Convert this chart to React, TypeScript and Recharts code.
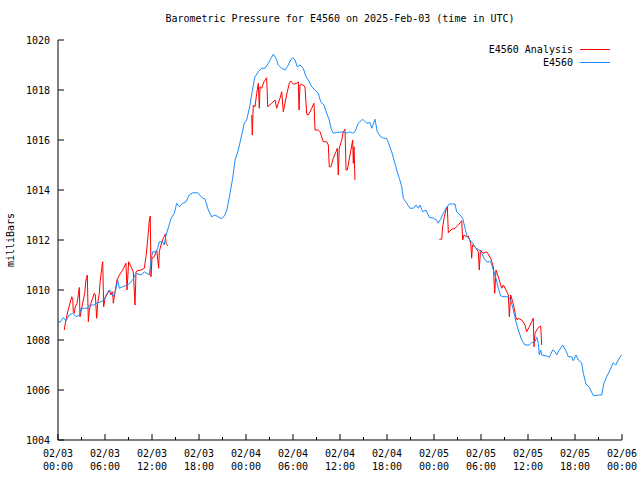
import React from 'react';
import { LineChart, Line, XAxis, YAxis, Legend } from 'recharts';

// hours since 02/03 00:00 UTC
const xTicks = [0, 3, 6, 9, 12, 15, 18, 21, 24, 27, 30, 33, 36, 39, 42, 45, 48, 51, 54, 57, 60, 63, 66, 69, 72];
const yTicks = [1004, 1006, 1008, 1010, 1012, 1014, 1016, 1018, 1020];
const dayLabels = ['02/03', '02/04', '02/05', '02/06'];
const seriesNames = ['E4560 Analysis', 'E4560'];

// E4560 station observations
const stationHours = [
  0, 0.26, 0.68, 1.02, 1.44, 1.88, 2.3, 2.72, 2.94, 3.79, 4.0, 4.63, 4.85, 5.49, 5.91, 6.13, 6.55, 6.77, 7.06, 7.32,
  7.62, 7.83, 8.26, 8.9, 9.54, 9.96, 10.6, 11.02, 11.66, 11.87, 12.09, 12.51, 12.73, 12.93, 13.37, 13.57, 13.79, 14.13,
  14.43, 14.85, 15.15, 15.49, 15.92, 16.34, 16.76, 17.2, 17.83, 18.47, 18.77, 19.19, 19.62, 20.04, 20.46, 20.9, 21.32,
  21.61, 21.96, 22.3, 22.6, 23.02, 23.45, 23.78, 24.09, 24.51, 24.93, 25.15, 25.57, 26.0, 26.43, 26.85, 27.19, 27.49,
  27.83, 28.12, 28.56, 28.98, 29.27, 29.71, 29.96, 30.26, 30.55, 30.89, 31.31, 31.66, 31.95, 32.39, 32.81, 33.23, 33.54,
  33.96, 34.3, 34.63, 34.85, 35.14, 35.58, 36.0, 36.42, 36.86, 37.19, 37.57, 37.91, 38.34, 38.9, 39.41, 39.83, 40.05,
  40.47, 40.76, 41.11, 41.53, 41.96, 42.29, 42.6, 42.89, 43.24, 43.57, 43.88, 44.08, 44.51, 44.94, 45.36, 45.7, 46.0,
  46.21, 46.56, 46.98, 47.4, 47.91, 48.34, 48.55, 48.89, 49.19, 49.53, 49.95, 50.68, 50.89, 51.32, 51.66, 51.96, 52.25,
  52.6, 52.94, 53.36, 53.78, 54.09, 54.38, 54.73, 55.24, 55.58, 55.91, 56.21, 56.51, 56.94, 57.49, 57.79, 58.13, 58.47,
  58.76, 59.2, 59.62, 60.17, 60.47, 60.89, 61.11, 61.32, 61.44, 61.62, 61.75, 62.39, 62.72, 63.15, 63.45, 63.66, 64.0,
  64.43, 64.85, 65.14, 65.58, 65.78, 66.13, 66.42, 66.85, 67.06, 67.4, 67.83, 68.34, 68.98, 69.41, 69.7, 70.05, 70.47,
  70.89, 71.2, 71.53, 71.82, 72,
];
const stationPressure = [
  1008.75, 1008.71, 1008.9, 1008.77, 1009.0, 1009.07, 1008.93, 1009.0, 1009.27, 1009.27, 1009.4, 1009.4, 1009.47,
  1009.53, 1009.63, 1009.8, 1010.0, 1009.93, 1009.73, 1009.93, 1010.4, 1010.07, 1010.13, 1010.2, 1010.4, 1010.67,
  1010.6, 1010.73, 1010.6, 1011.2, 1011.53, 1011.53, 1011.67, 1011.93, 1011.93, 1011.8, 1012.2, 1012.53, 1012.87,
  1013.07, 1013.47, 1013.33, 1013.47, 1013.53, 1013.8, 1013.89, 1013.89, 1013.67, 1013.64, 1013.2, 1012.93, 1013.0,
  1012.93, 1012.84, 1013.0, 1013.27, 1013.87, 1014.47, 1015.2, 1015.6, 1016.2, 1016.67, 1016.8, 1017.4, 1018.2,
  1018.53, 1018.73, 1018.87, 1018.87, 1019.07, 1019.27, 1019.43, 1019.27, 1019.0, 1018.87, 1018.8, 1018.93, 1019.2,
  1019.29, 1019.2, 1018.93, 1019.0, 1018.87, 1018.53, 1018.4, 1018.13, 1018.0, 1017.87, 1017.53, 1017.4, 1017.07,
  1016.8, 1016.47, 1016.27, 1016.31, 1016.31, 1016.33, 1016.27, 1016.33, 1016.27, 1016.33, 1016.67, 1016.83, 1016.67,
  1016.7, 1016.47, 1016.83, 1016.33, 1016.16, 1016.07, 1016.07, 1015.8, 1015.53, 1015.2, 1014.8, 1014.47, 1014.13,
  1013.67, 1013.47, 1013.27, 1013.27, 1013.4, 1013.27, 1013.4, 1013.13, 1013.2, 1012.91, 1012.87, 1012.8, 1012.67,
  1012.87, 1013.07, 1013.27, 1013.44, 1013.44, 1013.13, 1013.0, 1012.87, 1012.47, 1012.13, 1012.0, 1011.87, 1011.67,
  1011.6, 1011.47, 1011.27, 1011.13, 1011.13, 1010.8, 1010.47, 1010.07, 1009.76, 1009.73, 1009.73, 1009.6, 1009.2,
  1008.73, 1008.4, 1008.0, 1007.8, 1007.8, 1007.89, 1007.93, 1008.11, 1007.87, 1007.4, 1007.6, 1007.4, 1007.36,
  1007.31, 1007.6, 1007.53, 1007.4, 1007.6, 1007.8, 1007.57, 1007.33, 1007.33, 1007.17, 1007.4, 1007.2, 1007.09,
  1006.67, 1006.24, 1006.11, 1005.77, 1005.8, 1005.8, 1006.27, 1006.53, 1006.8, 1007.09, 1007.0, 1007.2, 1007.36,
  1007.4,
];

// E4560 Analysis (null = no analysis, gap in the line)
const analysisHours = [
  0.8, 0.93, 1.24, 1.53, 1.75, 1.88, 1.95, 2.08, 2.21, 2.43, 2.59, 2.72, 2.81, 3.06, 3.23, 3.41, 3.57, 3.74, 3.87, 4.0,
  4.21, 4.43, 4.63, 4.76, 4.94, 5.07, 5.27, 5.4, 5.58, 5.71, 5.83, 6.0, 6.22, 6.55, 6.77, 6.98, 7.06, 7.32, 7.53, 7.83,
  8.26, 8.68, 8.81, 9.02, 9.32, 9.61, 9.83, 9.96, 10.17, 10.6, 11.02, 11.23, 11.45, 11.66, 11.78, 11.87, 12.0, 12.29,
  12.6, 12.85, 12.93, 13.15, 13.44, 13.7, 13.79, 14.0,
  19.0,
  24.73, 24.8, 24.93, 25.15, 25.37, 25.57, 25.7, 25.79, 26.0, 26.3, 26.64, 26.77, 27.28, 27.7, 27.92, 28.12, 28.34,
  28.56, 28.76, 28.98, 29.27, 29.53, 29.71, 30.04, 30.47, 30.68, 30.77, 30.89, 31.11, 31.53, 31.75, 31.95, 32.39,
  32.68, 32.81, 33.23, 33.45, 33.87, 34.3, 34.51, 34.63, 34.85, 35.14, 35.49, 35.66, 35.78, 35.91, 36.22, 36.42, 36.64,
  36.77, 36.93, 37.28, 37.62, 37.7, 37.79, 37.91,
  43.0,
  48.68, 48.98, 49.11, 49.32, 49.53, 49.7, 49.83, 50.26, 50.68, 51.1, 51.54, 51.66, 51.83, 52.17, 52.38, 52.69, 52.81,
  52.91, 53.23, 53.66, 53.78, 53.93, 54.25, 54.73, 55.24, 55.58, 55.75, 55.91, 56.21, 56.64, 56.85, 57.19, 57.49,
  57.62, 57.79, 58.04, 58.25, 58.43, 58.64, 58.76, 59.2, 59.62, 59.83, 60.17, 60.47, 60.67, 60.77, 60.89, 61.11, 61.44,
  61.62, 61.75,
];
const analysisPressure = [
  1008.4, 1008.67, 1009.13, 1009.47, 1009.73, 1009.67, 1009.13, 1009.07, 1009.33, 1009.47, 1009.8, 1010.1, 1008.93,
  1009.33, 1009.6, 1009.87, 1010.4, 1010.6, 1008.73, 1009.2, 1009.47, 1009.67, 1009.87, 1009.8, 1008.87, 1009.47,
  1009.87, 1010.4, 1010.87, 1011.13, 1009.33, 1009.67, 1009.8, 1010.0, 1009.8, 1009.93, 1009.47, 1010.0, 1010.4,
  1010.6, 1010.8, 1011.07, 1010.0, 1011.13, 1010.93, 1010.73, 1009.4, 1010.73, 1010.77, 1010.8, 1010.87, 1011.33,
  1012.0, 1012.8, 1012.96, 1010.53, 1011.27, 1011.33, 1011.6, 1010.87, 1011.53, 1011.8, 1012.07, 1012.24, 1011.87,
  1011.77,
  null,
  1017.0, 1016.2, 1017.4, 1017.33, 1017.87, 1018.27, 1017.27, 1018.13, 1018.07, 1018.33, 1018.49, 1017.33, 1017.47,
  1017.6, 1017.27, 1017.47, 1017.67, 1017.93, 1017.13, 1017.47, 1017.93, 1018.27, 1018.36, 1018.23, 1018.27, 1018.33,
  1017.2, 1018.2, 1018.23, 1018.13, 1017.03, 1017.0, 1017.27, 1017.47, 1016.4, 1016.4, 1016.33, 1015.93, 1015.93,
  1015.8, 1014.93, 1014.93, 1015.27, 1015.53, 1015.67, 1014.6, 1015.67, 1016.0, 1016.33, 1016.43, 1014.8, 1014.8,
  1015.4, 1016.0, 1015.07, 1015.73, 1014.4,
  null,
  1012.03, 1012.03, 1012.53, 1012.93, 1013.2, 1013.33, 1012.29, 1012.43, 1012.47, 1012.6, 1012.77, 1012.0, 1012.2,
  1012.13, 1012.16, 1011.87, 1011.27, 1011.8, 1011.73, 1011.53, 1010.8, 1011.6, 1011.47, 1011.53, 1011.27, 1010.93,
  1009.87, 1010.8, 1010.53, 1010.07, 1010.2, 1010.0, 1009.8, 1008.93, 1009.8, 1009.53, 1009.27, 1008.93, 1008.8,
  1008.87, 1008.8, 1008.6, 1008.33, 1008.53, 1008.73, 1008.87, 1007.73, 1008.27, 1008.4, 1008.53, 1008.56, 1007.8,
];

const stationData = stationHours.map((h, i) => ({ h, p: stationPressure[i] }));
const analysisData = analysisHours.map((h, i) => ({ h, p: analysisPressure[i] }));

const mono = '"DejaVu Sans Mono", "Liberation Mono", monospace';

function BottomTick({ x, y, payload }: any) {
  const h = payload.value;
  const major = h % 6 === 0;
  const hh = String(h % 24).padStart(2, '0');
  return (
    <g>
      <line x1={x} x2={x} y1={y} y2={y - (major ? 6 : 3)} stroke="#000" />
      {major && (
        <text x={x} y={y} textAnchor="middle" fontFamily={mono} fontSize={10} fill="#000">
          <tspan x={x} dy={17}>{dayLabels[Math.floor(h / 24)]}</tspan>
          <tspan x={x} dy={13}>{hh}:00</tspan>
        </text>
      )}
    </g>
  );
}

function TopTick({ x, y, payload }: any) {
  const major = payload.value % 6 === 0;
  return <line x1={x} x2={x} y1={y} y2={y + (major ? 6 : 3)} stroke="#000" />;
}

function LeftTick({ x, y, payload }: any) {
  return (
    <g>
      <line x1={x} x2={x + 6} y1={y} y2={y} stroke="#000" />
      <text x={x - 8} y={y} dy={4} textAnchor="end" fontFamily={mono} fontSize={10} fill="#000">
        {payload.value}
      </text>
    </g>
  );
}

function RightTick({ x, y }: any) {
  return <line x1={x} x2={x - 6} y1={y} y2={y} stroke="#000" />;
}

function KeyBox({ payload }: any) {
  const items = [...(payload || [])].sort(
    (a: any, b: any) => seriesNames.indexOf(a.value) - seriesNames.indexOf(b.value),
  );
  return (
    <div style={{ fontFamily: mono, fontSize: 10, color: '#000' }}>
      {items.map((e: any) => (
        <div
          key={e.value}
          style={{ display: 'flex', justifyContent: 'flex-end', alignItems: 'center', height: 13 }}
        >
          <span>{e.value}</span>
          <span style={{ width: 30, borderTop: `1px solid ${e.color}`, marginLeft: 7 }} />
        </div>
      ))}
    </div>
  );
}

export default function App() {
  return (
    <div style={{ position: 'absolute', left: 0, top: 0, width: 640, height: 480, background: '#fff' }}>
      <div
        style={{
          position: 'absolute',
          left: 58,
          top: 13,
          width: 564,
          textAlign: 'center',
          fontFamily: mono,
          fontSize: 10,
          lineHeight: '12px',
          color: '#000',
        }}
      >
        Barometric Pressure for E4560 on 2025-Feb-03 (time in UTC)
      </div>
      <div
        style={{
          position: 'absolute',
          left: -19,
          top: 234,
          width: 60,
          textAlign: 'center',
          transform: 'rotate(-90deg)',
          fontFamily: mono,
          fontSize: 10,
          lineHeight: '12px',
          color: '#000',
        }}
      >
        milliBars
      </div>
      <LineChart width={640} height={480} margin={{ top: 40, right: 18, bottom: 0, left: 0 }}>
        <XAxis
          dataKey="h"
          type="number"
          domain={[0, 72]}
          ticks={xTicks}
          interval={0}
          height={40}
          tickSize={0}
          tickMargin={0}
          axisLine={{ stroke: '#000' }}
          tick={<BottomTick />}
        />
        <XAxis
          xAxisId="top"
          orientation="top"
          dataKey="h"
          type="number"
          domain={[0, 72]}
          ticks={xTicks}
          interval={0}
          height={0}
          tickSize={0}
          tickMargin={0}
          axisLine={{ stroke: '#000' }}
          tick={<TopTick />}
        />
        <YAxis
          type="number"
          domain={[1004, 1020]}
          ticks={yTicks}
          interval={0}
          width={58}
          tickSize={0}
          tickMargin={0}
          axisLine={{ stroke: '#000' }}
          tick={<LeftTick />}
        />
        <YAxis
          yAxisId="right"
          orientation="right"
          type="number"
          domain={[1004, 1020]}
          ticks={yTicks}
          interval={0}
          width={0}
          tickSize={0}
          tickMargin={0}
          axisLine={{ stroke: '#000' }}
          tick={<RightTick />}
        />
        <Legend
          layout="vertical"
          verticalAlign="middle"
          align="center"
          wrapperStyle={{ left: 0, top: 43, width: 610 }}
          content={<KeyBox />}
        />
        <Line
          data={analysisData}
          dataKey="p"
          name="E4560 Analysis"
          stroke="#ff0000"
          strokeWidth={1}
          dot={false}
          activeDot={false}
          connectNulls={false}
          isAnimationActive={false}
        />
        <Line
          data={stationData}
          dataKey="p"
          name="E4560"
          stroke="#1a8cff"
          strokeWidth={1}
          dot={false}
          activeDot={false}
          isAnimationActive={false}
        />
      </LineChart>
    </div>
  );
}
